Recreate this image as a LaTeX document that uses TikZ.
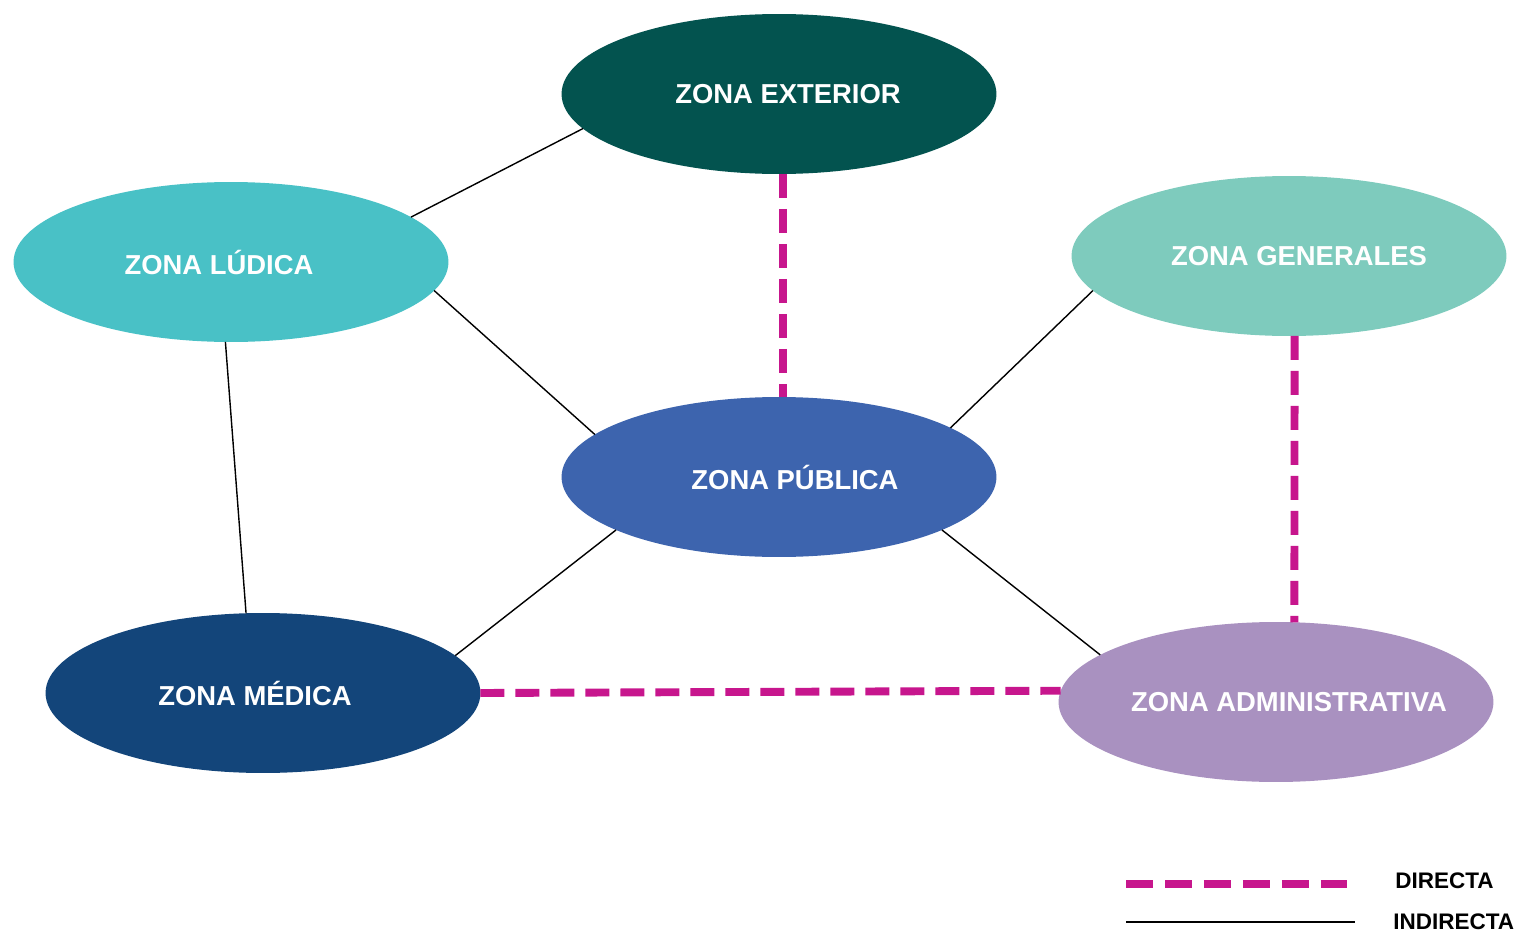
\documentclass[tikz,border=0pt]{standalone}
\usepackage{fontspec}
\setmainfont{Liberation Sans}
\usetikzlibrary{shapes.geometric}
\definecolor{cext}{HTML}{03534F}
\definecolor{clud}{HTML}{49C1C6}
\definecolor{cgen}{HTML}{7ECBBD}
\definecolor{cpub}{HTML}{3D64AE}
\definecolor{cmed}{HTML}{13457A}
\definecolor{cadm}{HTML}{A991C0}
\definecolor{cmag}{HTML}{C7168D}
\newcommand{\zonetext}[2]{\makebox[0pt]{\hspace*{#1}#2}}
\tikzset{
  zone/.style={ellipse, draw=none, minimum width=8.7cm, minimum height=3.2cm, inner sep=0pt, outer sep=0pt,
    text=white, font=\fontsize{15.6}{18}\selectfont\bfseries},
  directa/.style={draw=cmag, line width=4.5pt, dash pattern=on 0.48cm off 0.22cm},
  indirecta/.style={draw=black, line width=0.8pt},
  legtext/.style={anchor=west, inner sep=0pt, font=\fontsize{12.8}{15}\selectfont\bfseries}
}
\begin{document}
\begin{tikzpicture}[x=0.02cm, y=-0.02cm]
\useasboundingbox (0,0) rectangle (1519,933);
\node[zone, fill=cext] (ext) at (779,94) {\zonetext{0.36cm}{ZONA EXTERIOR}};
\node[zone, fill=clud] (lud) at (231,262) {\zonetext{-0.48cm}{ZONA LÚDICA}};
\node[zone, fill=cgen] (gen) at (1289,256) {\zonetext{0.4cm}{ZONA GENERALES}};
\node[zone, fill=cpub] (pub) at (779,477) {\zonetext{0.64cm}{ZONA PÚBLICA}};
\node[zone, fill=cmed] (med) at (263,693) {\zonetext{-0.32cm}{ZONA MÉDICA}};
\node[zone, fill=cadm] (adm) at (1276,702) {\zonetext{0.52cm}{ZONA ADMINISTRATIVA}};

\draw[indirecta] (ext.190) -- (lud.14);
\draw[indirecta] (lud.-8) -- (pub.167);
\draw[indirecta] (lud.266) -- (med.102);
\draw[indirecta] (pub.198) -- (med.11);
\draw[indirecta] (pub.16) -- (gen.190);
\draw[indirecta] (pub.342) -- (adm.165);

\draw[directa] (ext.273) -- (pub.87);
\draw[directa] (gen.274.3) -- (adm.77);
\draw[directa] (med.east) -- (adm.177);

\coordinate (d1) at (1126,884);
\coordinate (d2) at (1347,884);
\coordinate (i1) at (1126,922);
\coordinate (i2) at (1355,922);
\draw[directa, dash pattern=on 0.54cm off 0.24cm] (d1) -- (d2);
\draw[indirecta] (i1) -- (i2);
\node[legtext] (ld) at (1395,881) {DIRECTA};
\node[legtext] (li) at (1393,922) {INDIRECTA};
\end{tikzpicture}
\end{document}
